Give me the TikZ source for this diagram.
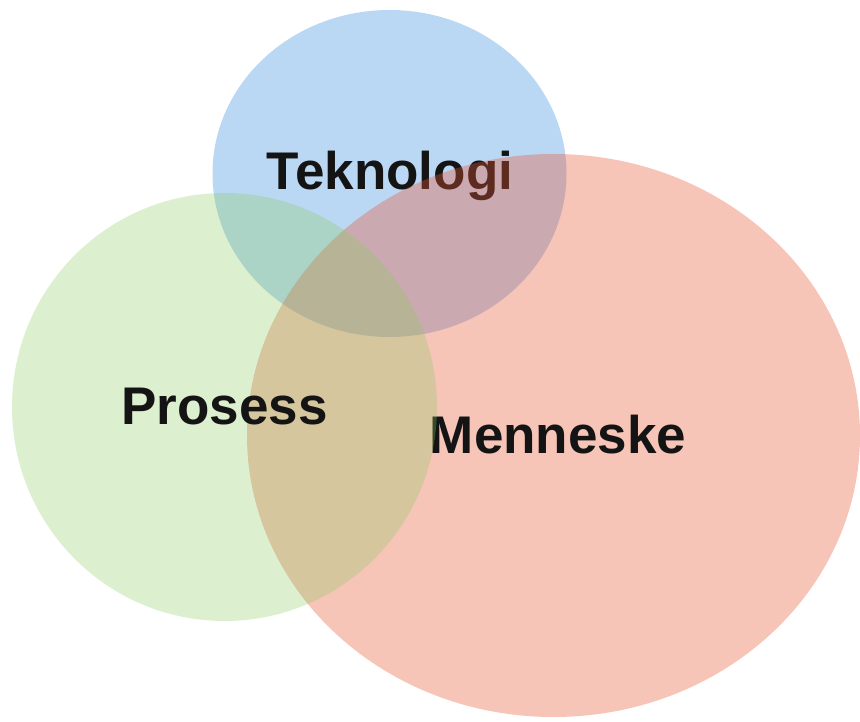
\documentclass[tikz,border=0pt]{standalone}
\usepackage{fontspec}
\setmainfont{Liberation Sans}
\definecolor{techblue}{RGB}{186,216,243}
\definecolor{humanred}{RGB}{232,86,52}
\definecolor{procgreen}{RGB}{138,202,95}
\definecolor{labelink}{RGB}{20,20,20}
\begin{document}
\begin{tikzpicture}[x=1pt,y=-1pt,
  label/.style={anchor=base, inner sep=0pt, text=labelink,
    font=\fontsize{53}{60}\selectfont\bfseries}]
\useasboundingbox (0,0) rectangle (860,722);
% Teknologi: opaque blue disc with its label
\fill[techblue] (389.5,173.5) ellipse [x radius=177, y radius=163.5];
\node[label] (tek) at (390,190) {Teknologi};
% Menneske: translucent red disc laid over the blue one
\fill[humanred, fill opacity=0.35] (553.5,435.5) ellipse [x radius=306.5, y radius=281.5];
\node[label] (men) at (558,453) {Menneske};
% Prosess: translucent green disc on top
\fill[procgreen, fill opacity=0.3] (224.5,407) ellipse [x radius=212.5, y radius=214];
\node[label] (pro) at (224.5,424) {Prosess};
\end{tikzpicture}
\end{document}
